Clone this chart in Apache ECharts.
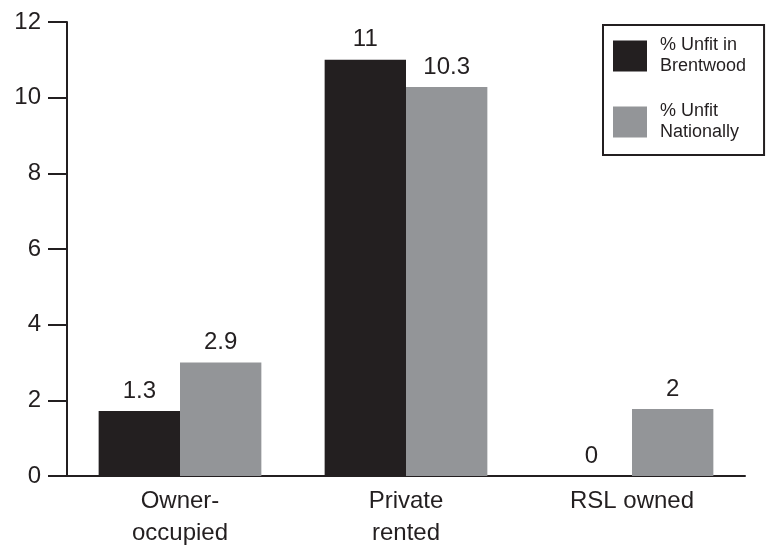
<!DOCTYPE html>
<html>
<head>
<meta charset="utf-8">
<script src="https://cdn.jsdelivr.net/npm/echarts@6/dist/echarts.min.js"></script>
<style>
  html, body { margin: 0; padding: 0; background: #fff; }
  #chart { width: 768px; height: 547px; }
</style>
</head>
<body>
<div id="chart"></div>
<script>
var categories = ['Owner-\noccupied', 'Private\nrented', 'RSL owned']
var seriesNames = ['% Unfit in\nBrentwood', '% Unfit\nNationally']
// bar heights as drawn in the picture
var brentwood = [1.72, 11, 0]
var national = [3.0, 10.28, 1.77]
// the value labels printed above the bars
var brentwoodLabels = ['1.3', '11', '0']
var nationalLabels = ['2.9', '10.3', '2']
var yTicks = [0, 2, 4, 6, 8, 10, 12]

var ink = '#231f20'
var font = "'Liberation Sans', Arial, sans-serif"

var chart = echarts.init(document.getElementById('chart'))

function labelFrom(list) {
  return {
    show: true,
    position: 'top',
    distance: 8,
    color: ink,
    fontSize: 24,
    fontFamily: font,
    formatter: function (p) { return list[p.dataIndex] }
  }
}

var option = {
  animation: false,
  backgroundColor: '#fff',
  grid: { left: 67, right: 23, top: 22, bottom: 71, outerBoundsMode: 'none' },
  legend: {
    orient: 'vertical',
    left: 603,
    top: 25,
    padding: [10, 18, 12, 10],
    itemGap: 24,
    itemWidth: 34,
    itemHeight: 31,
    icon: 'rect',
    borderColor: ink,
    borderWidth: 2,
    borderRadius: 0,
    textStyle: { fontSize: 18, fontFamily: font, color: ink, lineHeight: 21, padding: [0, 0, 0, 8] },
    data: seriesNames
  },
  xAxis: {
    type: 'category',
    data: categories,
    axisLine: { lineStyle: { color: ink, width: 2 } },
    axisTick: { length: 19, lineStyle: { color: ink, width: 2 } },
    axisLabel: { color: ink, fontSize: 24, fontFamily: font, lineHeight: 32, margin: 9 }
  },
  yAxis: {
    type: 'value',
    min: yTicks[0],
    max: yTicks[yTicks.length - 1],
    interval: 2,
    splitLine: { show: false },
    axisLine: { show: true, lineStyle: { color: ink, width: 2 } },
    axisTick: { show: true, length: 19, lineStyle: { color: ink, width: 2 } },
    axisLabel: { color: ink, fontSize: 24, fontFamily: font, margin: 26 }
  },
  series: [
    {
      name: seriesNames[0],
      type: 'bar',
      data: brentwood,
      barGap: '0%',
      barCategoryGap: '28%',
      itemStyle: { color: ink },
      label: labelFrom(brentwoodLabels)
    },
    {
      name: seriesNames[1],
      type: 'bar',
      data: national,
      barGap: '0%',
      barCategoryGap: '28%',
      itemStyle: { color: '#939598' },
      label: labelFrom(nationalLabels)
    }
  ]
}

chart.setOption(option, true)
</script>
</body>
</html>
